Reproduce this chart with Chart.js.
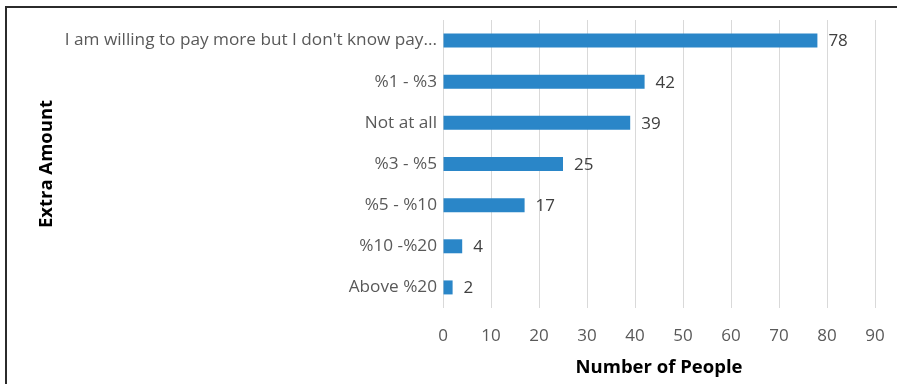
<!DOCTYPE html>
<html>
<head>
<meta charset="utf-8">
<title>Extra Amount</title>
<script src="https://cdn.jsdelivr.net/npm/chart.js@4.4.1/dist/chart.umd.min.js"></script>
<style>
    html, body { margin: 0; padding: 0; background: #fff; }
    #wrap { position: relative; width: 897px; height: 384px; overflow: hidden; }
    #frame {
        position: absolute; left: 5px; top: 6px; width: 920px; height: 400px;
        border-top: 2px solid #2b2b2b; border-left: 2px solid #2b2b2b;
    }
    #extraChart { position: absolute; left: 0; top: 0; }
</style>
</head>
<body>
<div id="wrap">
    <div id="frame"></div>
    <canvas id="extraChart" width="897" height="384"></canvas>
</div>
<script>
// Survey answers and how many people picked each one
const categories = [
    "I am willing to pay more but I don't know pay...",
    '%1 - %3',
    'Not at all',
    '%3 - %5',
    '%5 - %10',
    '%10 -%20',
    'Above %20'
];
const peopleCounts = [78, 42, 39, 25, 17, 4, 2];
const xTicks = [0, 10, 20, 30, 40, 50, 60, 70, 80, 90];

const FONT = "'Open Sans', sans-serif";
const BAR_COLOR = '#2a86c8';

// Writes the count just past the end of each bar
const valueLabels = {
    id: 'valueLabels',
    afterDatasetsDraw(chart) {
        const ctx = chart.ctx;
        const meta = chart.getDatasetMeta(0);
        ctx.save();
        ctx.font = '17px ' + FONT;
        ctx.fillStyle = '#404040';
        ctx.textAlign = 'left';
        ctx.textBaseline = 'middle';
        meta.data.forEach((bar, i) => {
            ctx.fillText(String(peopleCounts[i]), bar.x + 11, bar.y + 1);
        });
        ctx.restore();
    }
};

new Chart(document.getElementById('extraChart'), {
    type: 'bar',
    data: {
        labels: categories,
        datasets: [{
            data: peopleCounts,
            backgroundColor: BAR_COLOR,
            borderWidth: 0,
            barPercentage: 0.34,
            categoryPercentage: 1
        }]
    },
    options: {
        indexAxis: 'y',
        responsive: false,
        animation: false,
        layout: { padding: { top: 20, right: 22, bottom: 0, left: 0 } },
        plugins: {
            legend: { display: false },
            tooltip: { enabled: false }
        },
        scales: {
            x: {
                min: 0,
                max: 90,
                afterBuildTicks(scale) {
                    scale.ticks = xTicks.map(v => ({ value: v }));
                },
                afterFit(scale) {
                    scale.height = 76;
                    scale.paddingLeft = 0;
                    scale.paddingRight = 0;
                },
                grid: { color: '#d9d9d9', lineWidth: 1, drawTicks: false },
                border: { display: false },
                ticks: {
                    padding: 18,
                    color: '#595959',
                    font: { family: FONT, size: 17 }
                },
                title: {
                    display: true,
                    text: 'Number of People',
                    color: '#000',
                    font: { family: FONT, size: 18.5, weight: 'bold' },
                    padding: { top: 0, bottom: 5 }
                }
            },
            y: {
                afterFit(scale) { scale.width = 443; },
                grid: { display: false, drawTicks: false },
                border: { display: false },
                ticks: {
                    padding: 6,
                    color: '#595959',
                    font: { family: FONT, size: 17.2 }
                },
                title: {
                    display: true,
                    text: 'Extra Amount',
                    color: '#000',
                    font: { family: FONT, size: 18.5, weight: 'bold' },
                    padding: { top: 36, bottom: 0 }
                }
            }
        }
    },
    plugins: [valueLabels]
});
</script>
</body>
</html>
